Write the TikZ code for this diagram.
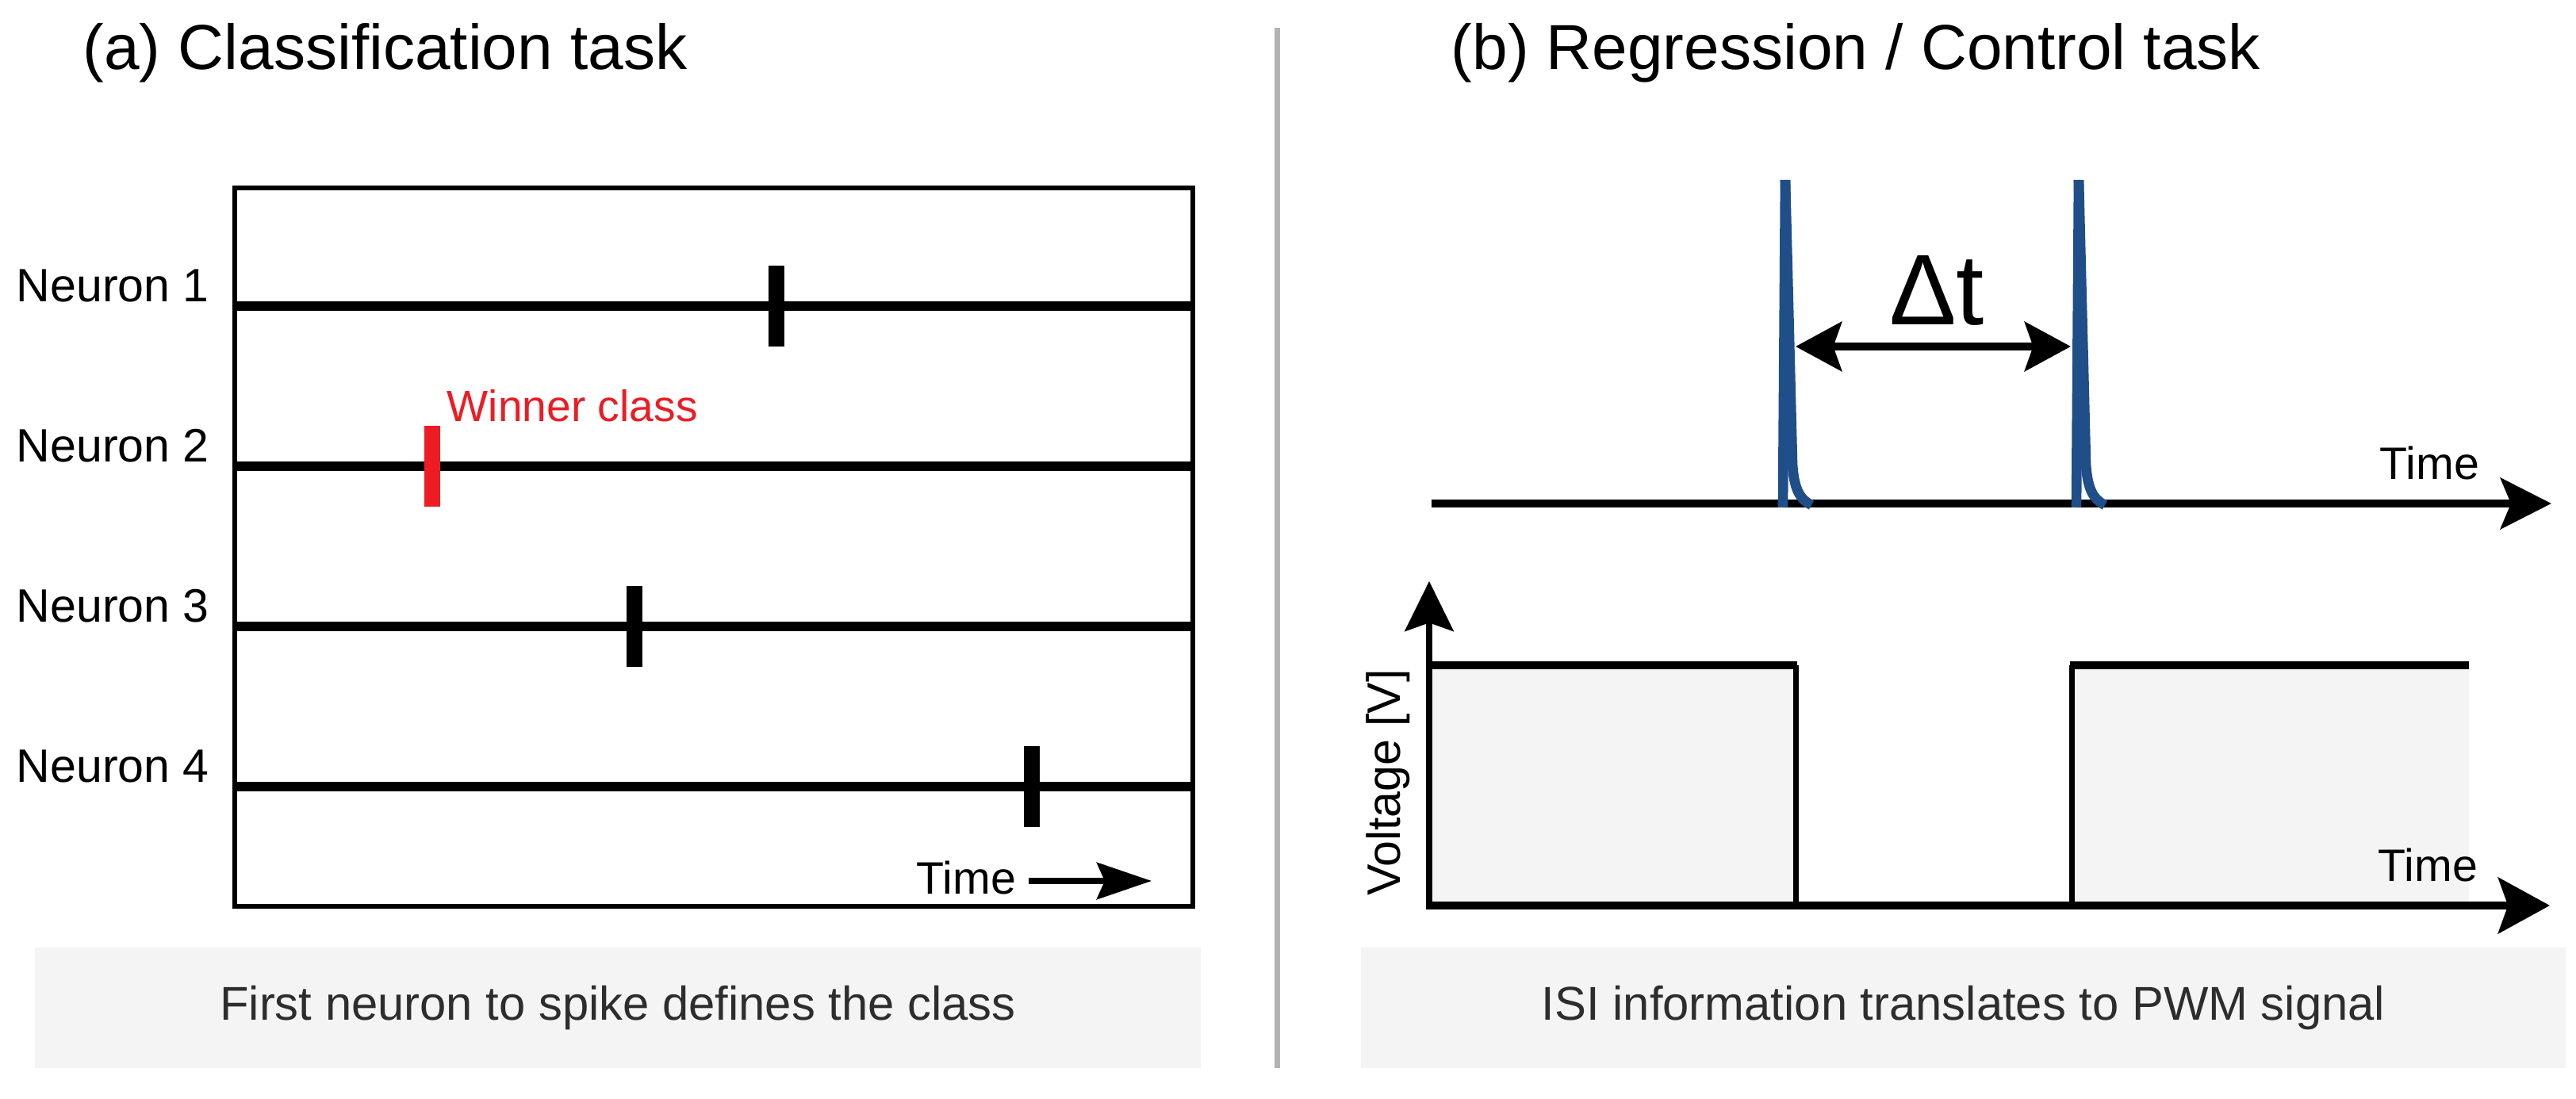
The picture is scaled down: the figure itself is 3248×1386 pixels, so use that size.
\documentclass[tikz,border=0pt]{standalone}
\usepackage{fontspec}
\setmainfont{Liberation Sans}
\usetikzlibrary{arrows.meta}
\definecolor{spikeblue}{RGB}{31,78,137}
\definecolor{winred}{RGB}{237,28,36}
\definecolor{divgray}{RGB}{179,179,179}
\definecolor{capfill}{RGB}{244,244,244}
\definecolor{captext}{RGB}{45,45,45}
\begin{document}
\begin{tikzpicture}[x=0.01cm,y=-0.01cm,
  title/.style={anchor=base west,inner sep=0,font=\fontsize{22.8}{27}\selectfont},
  nlabel/.style={anchor=base west,inner sep=0,font=\fontsize{16.8}{20}\selectfont},
  timelab/.style={anchor=base west,inner sep=0,font=\fontsize{16.3}{20}\selectfont},
  capbox/.style={fill=capfill,text=captext,inner sep=0,minimum height=1.52cm,font=\fontsize{17}{20}\selectfont},
  trace/.style={line width=3.2pt},
  tickmark/.style={line width=5.7pt},
  bluespike/.style={spikeblue,line width=3.6pt},
]
\useasboundingbox (0,0) rectangle (3248,1386);

% titles
\node[title] (ta) at (104,88) {(a) Classification task};
\node[title] (tb) at (1829,88) {(b) Regression / Control task};

% divider
\coordinate (d1) at (1610,35);
\coordinate (d2) at (1610,1347);
\draw[divgray,line width=2pt] (d1) -- (d2);

% ---------- left panel ----------
\draw[line width=1.8pt] (296,237) rectangle (1504,1143);
\foreach \i/\y in {1/386,2/588,3/790,4/992} {
  \coordinate (L\i) at (296,\y);
  \coordinate (R\i) at (1504,\y);
  \draw[trace] (L\i) -- (R\i);
  \node[nlabel] (n\i) at (20,\y-5) {Neuron \i};
}
\draw[tickmark] (979,335) -- (979,437);
\draw[tickmark,winred] (545,537) -- (545,639);
\draw[tickmark] (800,739) -- (800,841);
\draw[tickmark] (1301,941) -- (1301,1043);
\node[anchor=base west,inner sep=0,text=winred,font=\fontsize{15.7}{19}\selectfont] (win) at (563,532) {Winner class};

\node[timelab] (tl) at (1155,1127) {Time};
\coordinate (tla) at (1297,1111);
\coordinate (tlb) at (1452,1111);
\draw[line width=2.3pt,-{Stealth[length=19.6pt,width=13.1pt,inset=2.8pt]}] (tla) -- (tlb);

\node[capbox,minimum width=14.7cm] (c1) at (779,1271) {First neuron to spike defines the class};

% ---------- right panel, spikes ----------
\coordinate (ax1) at (1805,635);
\coordinate (ax2) at (3217,635);
\draw[line width=3.1pt,-{Stealth[length=18.2pt,width=18.2pt,inset=3.7pt]}] (ax1) -- (ax2);
\node[timelab] (tt) at (3000,605) {Time};

\foreach \dx in {0,370} {
  \draw[bluespike] (2248+\dx,640) -- (2251+\dx,227);
  \draw[bluespike] (2251+\dx,227) -- (2260+\dx,585) .. controls (2262+\dx,618) and (2270+\dx,630) .. (2284+\dx,637);
}
\coordinate (dt1) at (2264,437);
\coordinate (dt2) at (2611,437);
\draw[line width=2.85pt,{Stealth[length=16.5pt,width=17.6pt,inset=3pt]}-{Stealth[length=16.5pt,width=17.6pt,inset=3pt]}] (dt1) -- (dt2);
\node[anchor=base,inner sep=0,font=\fontsize{36}{40}\selectfont] (dt) at (2442,410) {Δt};

% ---------- right panel, PWM ----------
\fill[capfill] (1802,839) rectangle (2264,1142);
\fill[capfill] (2612,839) rectangle (3113,1142);
\draw[line width=3.1pt] (1802,839) -- (2266,839);
\draw[line width=2pt] (2264,839) -- (2264,1142);
\draw[line width=2pt] (2612,1142) -- (2612,839);
\draw[line width=3.1pt] (2610,839) -- (3113,839);
\coordinate (o) at (1802,1147);
\coordinate (vtop) at (1802,733);
\coordinate (o2) at (1798,1142);
\coordinate (hend) at (3215,1142);
\draw[line width=2.3pt,-{Stealth[length=17.9pt,width=17.4pt,inset=3pt]}] (o) -- (vtop);
\draw[line width=2.85pt,-{Stealth[length=18.5pt,width=20pt,inset=3.5pt]}] (o2) -- (hend);
\node[timelab] (tb2) at (2998,1112) {Time};
\node[rotate=90,inner sep=0,font=\fontsize{16.8}{20}\selectfont] (volt) at (1750,987) {Voltage [V]};

\node[capbox,minimum width=15.19cm] (c2) at (2475.5,1271) {ISI information translates to PWM signal};
\end{tikzpicture}
\end{document}
